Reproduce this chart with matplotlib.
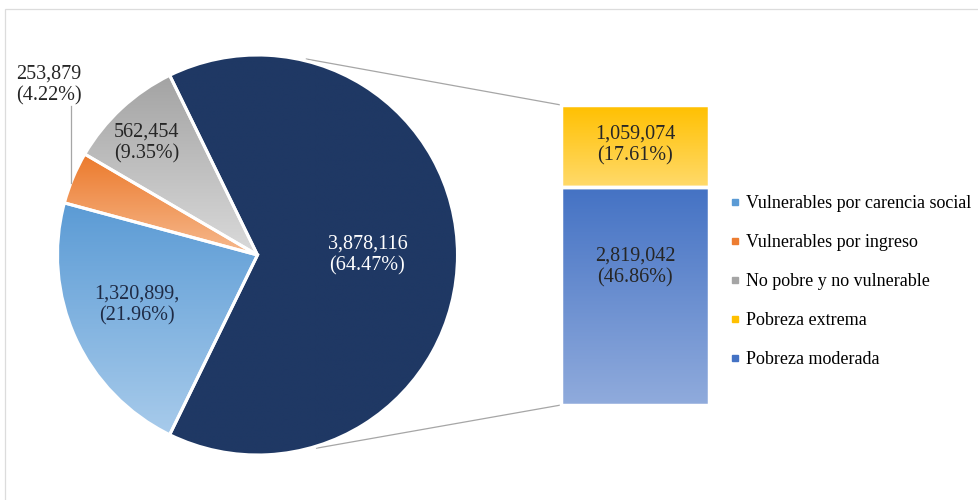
import numpy as np
import matplotlib
matplotlib.use('Agg')
import matplotlib.pyplot as plt
from matplotlib.colors import to_rgb
from matplotlib.lines import Line2D
from matplotlib.patches import Rectangle

plt.rcParams['font.family'] = ['Liberation Serif', 'DejaVu Serif']

# data
legend_labels = ['Vulnerables por carencia social',
                 'Vulnerables por ingreso',
                 'No pobre y no vulnerable',
                 'Pobreza extrema',
                 'Pobreza moderada']
vuln_carencia = 1320899
vuln_ingreso = 253879
no_pobre = 562454
pobreza_extrema = 1059074
pobreza_moderada = 2819042
pobreza_total = 3878116
pie_text = ['3,878,116\n(64.47%)', '562,454\n(9.35%)',
            '253,879\n(4.22%)', '1,320,899,\n(21.96%)']
bar_text = ['2,819,042\n(46.86%)', '1,059,074\n(17.61%)']

# colours (top, bottom) for the gradients
GRAD = {
    'navy': ('#1f3864', '#1f3864'),
    'gray': ('#a3a3a3', '#dadada'),
    'orange': ('#ec7a2c', '#f6b98e'),
    'blue': ('#5b9bd5', '#a8cbeb'),
    'yellow': ('#ffc000', '#ffda6b'),
    'dblue': ('#4472c4', '#90abdc'),
}
LEGEND_COLORS = ['#5b9bd5', '#ed7d31', '#a5a5a5', '#ffc000', '#4472c4']

W, H = 979, 500
CX, CY, R = 257.5, 245, 200
BAR_X, BAR_W, BAR_BOTTOM, BAR_H = 635, 148, 95, 300
FS = 14.5
LS = 1.18


def gradient_fill(ax, patch, top, bottom, zorder=1):
    ext = patch.get_path().transformed(patch.get_patch_transform()).get_extents()
    n = 256
    t = np.linspace(0, 1, n)[:, None]
    c0 = np.array(to_rgb(bottom))
    c1 = np.array(to_rgb(top))
    img = (c0 + (c1 - c0) * t)[:, None, :]
    im = ax.imshow(img, extent=[ext.x0, ext.x1, ext.y0, ext.y1],
                   origin='lower', aspect='auto', zorder=zorder,
                   interpolation='bilinear')
    im.set_clip_path(patch)


fig = plt.figure(figsize=(W / 100, H / 100), dpi=100)
ax = fig.add_axes([0, 0, 1, 1])

pie_vals = [pobreza_total, no_pobre, vuln_ingreso, vuln_carencia]
pie_grad = ['navy', 'gray', 'orange', 'blue']
start = -pobreza_total / sum(pie_vals) * 360 / 2
wedges, _ = ax.pie(pie_vals, startangle=start, counterclock=True,
                   center=(CX, CY), radius=R,
                   wedgeprops=dict(edgecolor='white', linewidth=2.2))
for w, g in zip(wedges, pie_grad):
    gradient_fill(ax, w, *GRAD[g])
    w.set_facecolor('none')
    w.set_zorder(2)

# bar of the split
scale = BAR_H / pobreza_total
bars = ax.bar([BAR_X, BAR_X], [pobreza_moderada * scale, pobreza_extrema * scale],
              bottom=[BAR_BOTTOM, BAR_BOTTOM + pobreza_moderada * scale],
              width=BAR_W, edgecolor='white', linewidth=2.5)
for b, g in zip(bars, ['dblue', 'yellow']):
    gradient_fill(ax, b, *GRAD[g])
    b.set_facecolor('none')
    b.set_zorder(2)

# connector lines
for ang, by in [(76, BAR_BOTTOM + BAR_H), (-73, BAR_BOTTOM)]:
    a = np.deg2rad(ang)
    ax.plot([CX + R * 1.01 * np.cos(a), BAR_X - BAR_W / 2],
            [CY + R * 1.01 * np.sin(a), by],
            color='#a6a6a6', lw=0.9, zorder=1)

# pie labels
ax.text(CX + 110, CY, pie_text[0], color='white', fontsize=FS,
        ha='center', va='center', linespacing=LS, zorder=3)
ax.text(CX - 111, CY + 112, pie_text[1], color='#262626', fontsize=FS,
        ha='center', va='center', linespacing=LS, zorder=3)
ax.text(CX - 121, CY - 50, pie_text[3], color='#1f2b45', fontsize=FS,
        ha='center', va='center', linespacing=LS, zorder=3)
ax.text(CX - 209, CY + 170, pie_text[2], color='#262626', fontsize=FS,
        ha='center', va='center', linespacing=LS, zorder=3)
ax.plot([71, 71], [394, CY + np.sqrt(R ** 2 - (CX - 71) ** 2)],
        color='#a6a6a6', lw=0.9, zorder=3)

# bar labels
for b, txt, dy in zip(bars, bar_text, [29, 1]):
    ax.text(b.get_x() + b.get_width() / 2, b.get_y() + b.get_height() / 2 + dy,
            txt, color='#262626', fontsize=FS, ha='center', va='center',
            linespacing=LS, zorder=3)

handles = [Line2D([], [], marker='s', linestyle='none', markersize=3.8,
                  markerfacecolor=c, markeredgecolor=c) for c in LEGEND_COLORS]
fig.legend(handles, legend_labels, loc='upper left',
           bbox_to_anchor=(730 / W, 1 - 195 / H), frameon=False,
           fontsize=13, labelspacing=1.22, handlelength=0.5,
           handletextpad=0.4, borderaxespad=0, borderpad=0)

# outer chart frame
fig.patches.append(Rectangle((5 / W, -0.1), 1.2, 1 - 9 / H + 0.1,
                             transform=fig.transFigure, fill=False,
                             edgecolor='#dcdcdc', lw=0.9))

ax.set_xlim(0, W)
ax.set_ylim(0, H)
ax.set_aspect('auto')
ax.axis('off')

fig.savefig('out.png', dpi=100)
